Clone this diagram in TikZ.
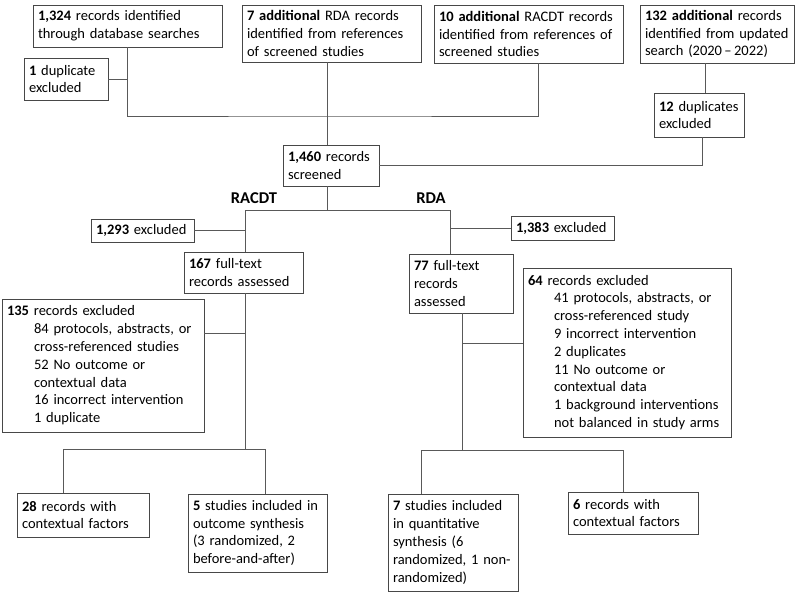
\documentclass[tikz,border=0pt]{standalone}
\usepackage{fontspec}
\setmainfont{Carlito}
\hyphenpenalty=10000
\begin{document}
\begin{tikzpicture}[x=1pt,y=-1pt,
  box/.style={draw=black!72, line width=0.8pt, inner xsep=5pt, inner ysep=2pt, align=left, font=\fontsize{14.5}{17.8}\selectfont},
  conn/.style={draw=black!65, line width=0.8pt},
  lab/.style={font=\fontsize{16.5}{18}\selectfont\bfseries}]
\useasboundingbox (0,0) rectangle (799,593);
% top row
\node[box, text width=179pt, minimum height=42pt] (A) at (127.5,26) {\textbf{1,324} records identified\\through database searches};
\node[box, text width=74pt, minimum height=42pt] (B) at (66,79) {\textbf{1} duplicate\\excluded};
\node[box, text width=169pt, minimum height=57pt] (C) at (331.5,33.5) {\textbf{7 additional} RDA records\\identified from references\\of screened studies};
\node[box, text width=179pt, minimum height=58pt] (D) at (528.5,34) {\textbf{10 additional} RACDT records\\identified from references of\\screened studies};
\node[box, text width=144pt, minimum height=58pt] (E) at (717,34) {\textbf{132 additional} records\\identified from updated\\search (2020\,--\,2022)};
\node[box, text width=80pt, minimum height=44pt] (F) at (699,115) {\textbf{12} duplicates\\excluded};
\node[box, text width=86pt, minimum height=41pt] (G) at (331,165.5) {\textbf{1,460} records\\screened};
% branch labels
\node[lab] (racdt) at (254,198) {RACDT};
\node[lab] (rda) at (431,198) {RDA};
% left branch
\node[box, text width=93pt, minimum height=23pt] (H) at (142.5,230.5) {\textbf{1,293} excluded};
\node[box, text width=109pt, minimum height=41pt] (I) at (243.5,272.5) {\textbf{167} full-text\\records assessed};
\node[box, text width=192pt, minimum height=133pt] (J) at (103,365.5) {\textbf{135} records excluded\\
\hspace*{27pt}84 protocols, abstracts, or\\
\hspace*{27pt}cross-referenced studies\\
\hspace*{27pt}52 No outcome or\\
\hspace*{27pt}contextual data\\
\hspace*{27pt}16 incorrect intervention\\
\hspace*{27pt}1 duplicate};
\node[box, text width=122pt, minimum height=44pt] (K) at (83,515) {\textbf{28} records with\\contextual factors};
\node[box, text width=129pt, minimum height=78pt] (L) at (257.5,533) {\textbf{5} studies included in\\outcome synthesis\\(3 randomized, 2\\before-and-after)};
% right branch
\node[box, text width=93pt, minimum height=24pt] (M) at (562.5,228) {\textbf{1,383} excluded};
\node[box, text width=94pt, minimum height=59pt] (N) at (461,283.5) {\textbf{77} full-text\\records\\assessed};
\node[box, text width=198pt, minimum height=169pt] (O) at (627,352.5) {\textbf{64} records excluded\\
\hspace*{26pt}41 protocols, abstracts, or\\
\hspace*{26pt}cross-referenced study\\
\hspace*{26pt}9 incorrect intervention\\
\hspace*{26pt}2 duplicates\\
\hspace*{26pt}11 No outcome or\\
\hspace*{26pt}contextual data\\
\hspace*{26pt}1 background interventions\\
\hspace*{26pt}not balanced in study arms};
\node[box, text width=120pt, minimum height=97pt] (P) at (453,542.5) {\textbf{7} studies included\\in quantitative\\synthesis (6\\randomized, 1 non-\\randomized)};
\node[box, text width=120pt, minimum height=42pt] (Q) at (633,513) {\textbf{6} records with\\contextual factors};
% junction coordinates
\coordinate (top) at (327,116);
\coordinate (dx) at (538,63);
\coordinate (cx) at (327,62);
\coordinate (ex) at (705,63);
\coordinate (fx) at (702,137);
\coordinate (split) at (327,210);
\coordinate (rl) at (245,210);
\coordinate (rr) at (450,210);
\coordinate (bl) at (245,449);
\coordinate (jx) at (204,333);
\coordinate (kt) at (63,449);
\coordinate (lt) at (265,449);
\coordinate (br) at (462,450);
\coordinate (ox) at (523,343);
\coordinate (pt) at (421,450);
\coordinate (qt) at (623,450);
% connectors
\draw[conn] (A.south) |- (top) -| (dx |- D.south);
\draw[conn] (B.east) -- (B.east -| A.south);
\draw[conn] (cx |- C.south) -- (cx |- G.north);
\draw[conn] (ex |- E.south) -- (ex |- F.north);
\draw[conn] (fx |- F.south) |- (G.east);
\draw[conn] (G.south -| split) -- (split);
\draw[conn] (rl |- I.north) -- (rl) -- (rr) -- (rr |- N.north);
\draw[conn] (H.east) -- (H.east -| rl);
\draw[conn] (M.west) -- (M.west -| rr);
\draw[conn] (bl |- I.south) -- (bl);
\draw[conn] (jx) -- (jx -| bl);
\draw[conn] (kt |- K.north) -- (kt) -- (lt) -- (lt |- L.north);
\draw[conn] (br |- N.south) -- (br);
\draw[conn] (ox) -- (ox -| br);
\draw[conn] (pt |- P.north) -- (pt) -- (qt) -- (qt |- Q.north);
\end{tikzpicture}
\end{document}
